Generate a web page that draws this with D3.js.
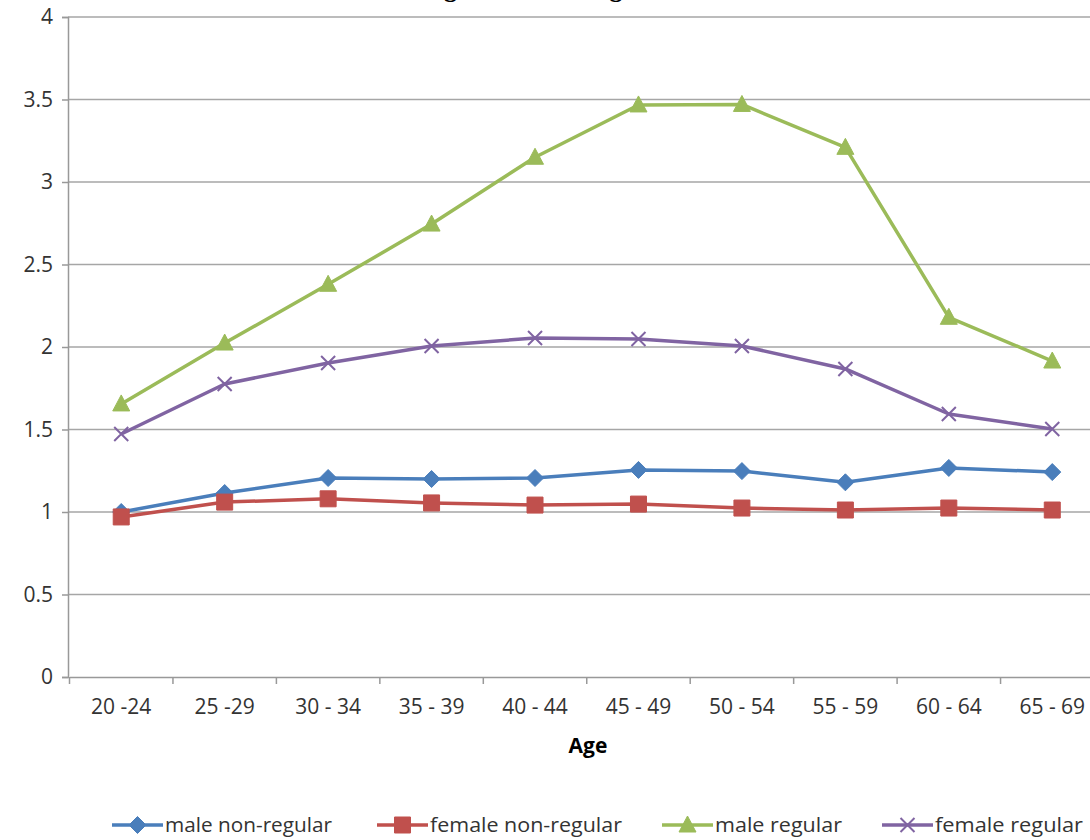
<!DOCTYPE html>
<html>
<head>
<meta charset="utf-8">
<script src="https://cdn.jsdelivr.net/npm/d3@7"></script>
<style>
  html, body { margin: 0; padding: 0; background: #fff; }
  svg { display: block; }
</style>
</head>
<body>
<svg id="chart" width="1090" height="840"></svg>
<script>
// Age groups on the horizontal axis
const ageGroups = ["20 -24", "25 -29", "30 - 34", "35 - 39", "40 - 44",
                   "45 - 49", "50 - 54", "55 - 59", "60 - 64", "65 - 69"];

// Series values per age group
const maleNonRegular   = [1.00, 1.115, 1.206, 1.200, 1.206, 1.255, 1.248, 1.180, 1.267, 1.242];
const femaleNonRegular = [0.97, 1.060, 1.080, 1.055, 1.042, 1.048, 1.024, 1.012, 1.024, 1.012];
const maleRegular      = [1.655, 2.024, 2.380, 2.745, 3.150, 3.467, 3.470, 3.210, 2.180, 1.915];
const femaleRegular    = [1.473, 1.776, 1.903, 2.006, 2.055, 2.048, 2.006, 1.867, 1.594, 1.503];

const yTicks = [0, 0.5, 1, 1.5, 2, 2.5, 3, 3.5, 4];

const seriesNames  = ["male non-regular", "female non-regular", "male regular", "female regular"];
const seriesColors = ["#4a7ebb", "#c0504d", "#9bbb59", "#8064a2"];
const seriesShapes = ["diamond", "square", "triangle", "cross"];
const seriesValues = [maleNonRegular, femaleNonRegular, maleRegular, femaleRegular];

const series = seriesNames.map((name, i) => ({
  name, color: seriesColors[i], shape: seriesShapes[i], values: seriesValues[i]
}));

const svg = d3.select("#chart");
const font = "'Open Sans', 'Liberation Sans', sans-serif";
const textColor = "#333";

const plot = { left: 68, right: 1104, top: 17, bottom: 677 };

const x = d3.scaleBand().domain(ageGroups).range([plot.left + 1.5, plot.right]).padding(0);
const y = d3.scaleLinear().domain([0, 4]).range([plot.bottom, plot.top]);
const cx = d => x(d) + x.bandwidth() / 2;

// Title (sits above the drawing area)
svg.append("text")
  .attr("x", 378).attr("y", -3)
  .attr("font-family", "'Liberation Serif', 'DejaVu Serif', serif")
  .attr("font-weight", "bold")
  .attr("font-size", 26)
  .attr("fill", "#000")
  .text("Average Relative Wage");

// Horizontal gridlines
svg.append("g")
  .selectAll("line")
  .data(yTicks.filter(t => t > 0))
  .join("line")
  .attr("x1", plot.left).attr("x2", plot.right)
  .attr("y1", d => y(d)).attr("y2", d => y(d))
  .attr("stroke", "#a6a6a6").attr("stroke-width", 1.5);

// Y axis
const yAxis = svg.append("g")
  .attr("transform", `translate(${plot.left},0)`)
  .call(d3.axisLeft(y).tickValues(yTicks).tickSize(6).tickPadding(9)
        .tickFormat(d => String(d)));
yAxis.select(".domain").attr("stroke", "#999").attr("stroke-width", 1.5);
yAxis.selectAll(".tick line").attr("stroke", "#999").attr("stroke-width", 1.5);
yAxis.selectAll(".tick text")
  .attr("font-family", font).attr("font-size", 21).attr("fill", textColor);

// X axis with ticks at band boundaries
const xAxis = svg.append("g")
  .attr("transform", `translate(0,${plot.bottom})`)
  .call(d3.axisBottom(x).tickSize(0).tickPadding(22));
xAxis.select(".domain").attr("stroke", "#999").attr("stroke-width", 1.5);
xAxis.selectAll(".tick text")
  .attr("font-family", font).attr("font-size", 21).attr("fill", textColor);
xAxis.selectAll("line.bound")
  .data(ageGroups.concat([null]))
  .join("line")
  .attr("class", "bound")
  .attr("x1", (d, i) => x.range()[0] + i * x.bandwidth())
  .attr("x2", (d, i) => x.range()[0] + i * x.bandwidth())
  .attr("y1", 0).attr("y2", 7)
  .attr("stroke", "#999").attr("stroke-width", 1.5);

// X axis title
svg.append("text")
  .attr("x", 588).attr("y", 753)
  .attr("text-anchor", "middle")
  .attr("font-family", font).attr("font-weight", "bold")
  .attr("font-size", 21).attr("fill", "#000")
  .text("Age");

// Marker shapes
function markerPath(shape) {
  switch (shape) {
    case "diamond":  return "M0,-8.5L8.5,0L0,8.5L-8.5,0Z";
    case "square":   return "M-8,-8H8V8H-8Z";
    case "triangle": return "M0,-9L8.5,7L-8.5,7Z";
    default:         return "M-7,-7L7,7M-7,7L7,-7";
  }
}
function drawMarker(g, shape, color) {
  const p = g.append("path").attr("d", markerPath(shape));
  if (shape === "cross") {
    p.attr("fill", "none").attr("stroke", color).attr("stroke-width", 2);
  } else {
    p.attr("fill", color).attr("stroke", color).attr("stroke-width", 1);
  }
}

const line = d3.line().x((d, i) => cx(ageGroups[i])).y(d => y(d));

const seriesG = svg.append("g").selectAll("g").data(series).join("g");
seriesG.append("path")
  .attr("d", d => line(d.values))
  .attr("fill", "none")
  .attr("stroke", d => d.color)
  .attr("stroke-width", 3.5)
  .attr("stroke-linejoin", "round");
seriesG.each(function (s) {
  const g = d3.select(this);
  s.values.forEach((v, i) => {
    const m = g.append("g").attr("transform", `translate(${cx(ageGroups[i])},${y(v)})`);
    drawMarker(m, s.shape, s.color);
  });
});

// Legend
const legendX = [112, 377, 662, 882];
const legendTextW = [167, 192, 127, 148];
const legendY = 825;
const legend = svg.append("g").selectAll("g").data(series).join("g")
  .attr("transform", (d, i) => `translate(${legendX[i]},${legendY})`);
legend.append("line")
  .attr("x1", 0).attr("x2", 51).attr("y1", 0).attr("y2", 0)
  .attr("stroke", d => d.color).attr("stroke-width", 3.5);
legend.each(function (s) {
  const m = d3.select(this).append("g").attr("transform", "translate(25.5,0)");
  drawMarker(m, s.shape, s.color);
});
legend.append("text")
  .attr("x", 53).attr("y", 7)
  .attr("font-family", font).attr("font-size", 20).attr("fill", textColor)
  .attr("textLength", (d, i) => legendTextW[i])
  .attr("lengthAdjust", "spacingAndGlyphs")
  .text(d => d.name);
</script>
</body>
</html>
